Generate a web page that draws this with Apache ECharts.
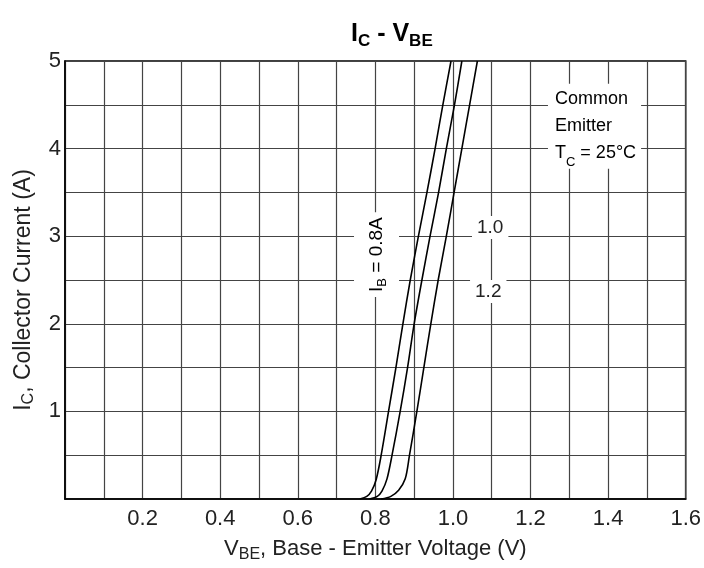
<!DOCTYPE html>
<html><head><meta charset="utf-8">
<script src="https://cdn.jsdelivr.net/npm/echarts@6/dist/echarts.min.js"></script>
<style>html,body{margin:0;padding:0;background:#fff}#c{width:704px;height:568px}</style>
</head><body><div id="c"></div>
<script>
// Data
const ibLabels = ['0.8A', '1.0A', '1.2A'];
const vbe08 = [0.760, 0.778, 0.790, 0.802, 0.815, 0.834, 0.853, 0.871, 0.890, 0.911, 0.933, 0.954, 0.974, 0.995];
const ic08  = [0.00, 0.03, 0.09, 0.22, 0.50, 1.00, 1.50, 2.00, 2.50, 3.00, 3.50, 4.00, 4.50, 5.00];
const vbe10 = [0.785, 0.805, 0.817, 0.830, 0.843, 0.864, 0.883, 0.900, 0.920, 0.941, 0.963, 0.983, 1.004, 1.023];
const ic10  = [0.00, 0.03, 0.09, 0.23, 0.50, 1.00, 1.50, 2.00, 2.50, 3.00, 3.50, 4.00, 4.50, 5.00];
const vbe12 = [0.815, 0.840, 0.860, 0.877, 0.888, 0.907, 0.925, 0.943, 0.962, 0.983, 1.003, 1.023, 1.043, 1.063];
const ic12  = [0.00, 0.03, 0.10, 0.23, 0.50, 1.00, 1.50, 2.00, 2.50, 3.00, 3.50, 4.00, 4.50, 5.00];
const xTickLabels = ['0.2', '0.4', '0.6', '0.8', '1.0', '1.2', '1.4', '1.6'];
const yTickLabels = ['1', '2', '3', '4', '5'];

const pairs = (xs, ys) => xs.map((x, i) => [x, ys[i]]);
const curves = [pairs(vbe08, ic08), pairs(vbe10, ic10), pairs(vbe12, ic12)];

const FONT = 'Liberation Sans, Arial, Helvetica, sans-serif';
const chart = echarts.init(document.getElementById('c'), null, {renderer: 'canvas'});

const option = {
  backgroundColor: '#fff',
  animation: false,
  title: {
    text: '{n|I}{s|C}{n| - V}{s|BE}',
    left: 346, top: 17,
    textStyle: {
      rich: {
        n: {fontFamily: FONT, fontWeight: 'bold', fontSize: 25, color: '#000'},
        s: {fontFamily: FONT, fontWeight: 'bold', fontSize: 17, color: '#000', verticalAlign: 'bottom', padding: [0, 0, -3, 0]}
      }
    }
  },
  grid: {left: 65, right: 18, top: 61, bottom: 68, show: true, borderColor: '#000', borderWidth: 1.5, backgroundColor: 'transparent'},
  xAxis: {
    type: 'value', min: 0, max: 1.6, interval: 0.1,
    name: '{n|V}{s|BE}{n|, Base - Emitter Voltage (V)}',
    nameLocation: 'middle', nameGap: 39,
    nameTextStyle: {
      rich: {
        n: {fontFamily: FONT, fontSize: 22, color: '#222'},
        s: {fontFamily: FONT, fontSize: 16, color: '#222', verticalAlign: 'bottom', padding: [0, 0, -3, 0]}
      }
    },
    axisLine: {lineStyle: {color: '#000', width: 1.5}},
    axisTick: {show: false},
    axisLabel: {
      fontFamily: FONT, fontSize: 22, color: '#222', margin: 9,
      formatter: v => { const s = v.toFixed(1); return xTickLabels.includes(s) ? s : ''; }
    },
    splitLine: {show: true, lineStyle: {color: '#444', width: 1.2}}
  },
  yAxis: {
    type: 'value', min: 0, max: 5, interval: 0.5,
    name: '{n|I}{s|C}{n|, Collector Current (A)}',
    nameLocation: 'middle', nameGap: 30, nameRotate: 90,
    nameTextStyle: {
      padding: [0, 20, 0, 0],
      rich: {
        n: {fontFamily: FONT, fontSize: 23, color: '#222'},
        s: {fontFamily: FONT, fontSize: 16, color: '#222', verticalAlign: 'bottom', padding: [0, 0, -2, 0]}
      }
    },
    axisLine: {lineStyle: {color: '#000', width: 1.5}},
    axisTick: {show: false},
    axisLabel: {
      fontFamily: FONT, fontSize: 22, color: '#222', margin: 4,
      verticalAlign: 'middle', padding: [6, 0, 0, 0],
      formatter: v => { const s = String(Math.round(v * 10) / 10); return yTickLabels.includes(s) ? s : ''; }
    },
    splitLine: {show: true, lineStyle: {color: '#444', width: 1.2}}
  },
  series: curves.map((d, i) => ({
    name: ibLabels[i], type: 'line', data: d, smooth: 0.3,
    showSymbol: false, lineStyle: {color: '#000', width: 1.6}, z: 5
  }))
};
chart.setOption(option);

// Annotations (data coordinates)
const annIB = [0.803, 2.79];
const ann10 = [1.096, 3.10];
const ann12 = [1.091, 2.37];
const annCommon = [1.263, 4.74];

const px = p => chart.convertToPixel({gridIndex: 0}, p);
const richN = {
  n: {fontFamily: FONT, fontSize: 19, color: '#222'},
  s: {fontFamily: FONT, fontSize: 13, color: '#222', verticalAlign: 'bottom', padding: [0, 0, -3, 0]}
};
const pIB = px(annIB), p10 = px(ann10), p12 = px(ann12), pC = px(annCommon);
chart.setOption({
  graphic: [
    {type: 'text', x: pIB[0], y: pIB[1], rotation: Math.PI / 2, z: 10,
      style: {text: '{n|I}{s|B}{n| = 0.8A}', rich: richN, align: 'center', verticalAlign: 'middle',
        backgroundColor: '#fff', padding: [13, 5, 13, 5]}},
    {type: 'text', x: p10[0], y: p10[1], z: 10,
      style: {text: '1.0', fontFamily: FONT, fontSize: 19, fill: '#222', align: 'center', verticalAlign: 'middle',
        backgroundColor: '#fff', padding: [2, 5, 2, 5]}},
    {type: 'text', x: p12[0], y: p12[1], z: 10,
      style: {text: '1.2', fontFamily: FONT, fontSize: 19, fill: '#222', align: 'center', verticalAlign: 'middle',
        backgroundColor: '#fff', padding: [2, 5, 2, 5]}},
    {type: 'text', x: pC[0] - 7, y: pC[1], z: 10,
      style: {text: '{n|Common}\n{n|Emitter}\n{n|T}{s|C}{n| = 25°C}',
        rich: {
          n: {fontFamily: FONT, fontSize: 18, color: '#222', lineHeight: 27},
          s: {fontFamily: FONT, fontSize: 13, color: '#222', lineHeight: 27, verticalAlign: 'bottom', padding: [0, 0, -2, 0]}
        },
        align: 'left', verticalAlign: 'top', backgroundColor: '#fff', padding: [2, 5, 2, 7]}}
  ]
});
</script></body></html>
